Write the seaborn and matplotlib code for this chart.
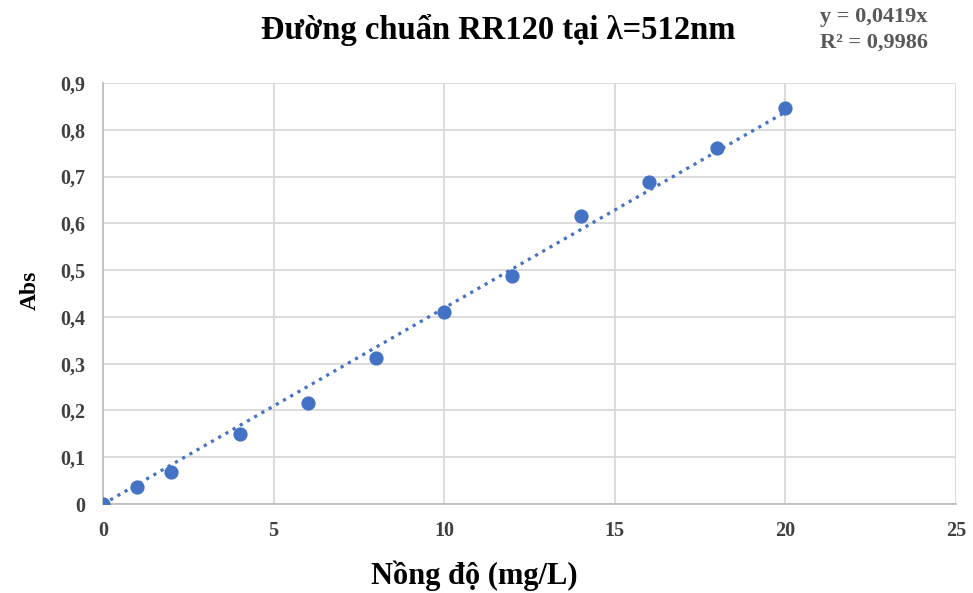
import numpy as np
import pandas as pd
import matplotlib
matplotlib.use("Agg")
import matplotlib.pyplot as plt
import seaborn as sns
from matplotlib.ticker import FuncFormatter

# Calibration data: concentration (mg/L) vs absorbance
concentration = [0, 1, 2, 4, 6, 8, 10, 12, 14, 16, 18, 20]
absorbance = [0.0, 0.036, 0.068, 0.150, 0.216, 0.312, 0.410, 0.487, 0.616, 0.688, 0.761, 0.846]
slope = 0.0419
r_squared = 0.9986

x_ticks = [0, 5, 10, 15, 20, 25]
y_ticks = [0, 0.1, 0.2, 0.3, 0.4, 0.5, 0.6, 0.7, 0.8, 0.9]

df = pd.DataFrame({"conc": concentration, "abs": absorbance})

sns.set_theme(style="whitegrid")
plt.rcParams["font.family"] = ["Liberation Serif", "DejaVu Serif"]

fig = plt.figure(figsize=(9.73, 5.93), dpi=100)
ax = fig.add_axes([0.1059, 0.150, 0.8766, 0.710])

blue = "#4472C4"
grid_c = "#D9D9D9"

# Linear trendline through origin
fit_x = np.array([0, max(concentration)])
ax.plot(fit_x, slope * fit_x, linestyle=(0, (1, 1.6)), color=blue, linewidth=2.3, zorder=2)

sns.scatterplot(data=df, x="conc", y="abs", ax=ax, color=blue, s=105,
                edgecolor=blue, linewidth=0, zorder=3)

ax.set_xlim(0, 25)
ax.set_ylim(0, 0.9)
ax.set_xticks(x_ticks)
ax.set_yticks(y_ticks)
comma = FuncFormatter(lambda v, p: ("%g" % round(v, 2)).replace(".", ","))
ax.xaxis.set_major_formatter(comma)
ax.yaxis.set_major_formatter(comma)

ax.grid(True, color=grid_c, linewidth=1.3)
for side in ["top", "right"]:
    ax.spines[side].set_visible(False)
for side in ["left", "bottom"]:
    ax.spines[side].set_visible(True)
    ax.spines[side].set_color("#BFBFBF")
    ax.spines[side].set_linewidth(1.3)

ax.tick_params(axis="both", labelsize=14.5, colors="#404040", length=0)
ax.tick_params(axis="x", pad=12)
ax.tick_params(axis="y", pad=13)
for lab in ax.get_xticklabels() + ax.get_yticklabels():
    lab.set_fontweight("bold")

ax.set_xlabel("")
ax.set_ylabel("")
fig.text(0.487, 0.029, "Nồng độ (mg/L)", ha="center", va="center",
         fontsize=22, fontweight="bold", color="black")
fig.text(0.031, 0.51, "Abs", ha="center", va="center", rotation=90,
         fontsize=17, fontweight="bold", color="black")

fig.text(0.512, 0.949, "Đường chuẩn RR120 tại λ=512nm", ha="center", va="center",
         fontsize=23.5, fontweight="bold", color="black")
fig.text(0.843, 0.950, "y = %s\nR² = %s" % (("%.4f" % slope).replace(".", ",") + "x",
                                            ("%.4f" % r_squared).replace(".", ",")),
         ha="left", va="center", fontsize=16, fontweight="bold", color="#595959",
         linespacing=1.35)

fig.savefig("out.png", dpi=100)
